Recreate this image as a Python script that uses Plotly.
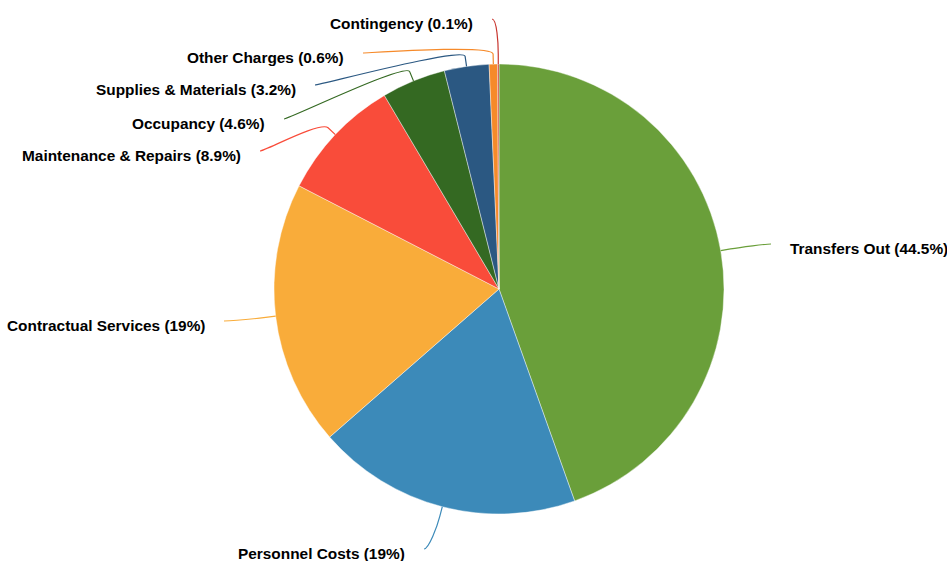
import math
import plotly.graph_objects as go

# Expenditure breakdown by category (percent of total)
categories = [
    "Transfers Out",
    "Personnel Costs",
    "Contractual Services",
    "Maintenance & Repairs",
    "Occupancy",
    "Supplies & Materials",
    "Other Charges",
    "Contingency",
]
shares = [44.5, 19, 19, 8.9, 4.6, 3.2, 0.6, 0.1]
share_text = ["44.5%", "19%", "19%", "8.9%", "4.6%", "3.2%", "0.6%", "0.1%"]

colors = ["#6a9f3a", "#3c8ab9", "#f9ac3a", "#f94c3a",
          "#346922", "#2b5882", "#f68a2a", "#c8352e"]

# Canvas and pie geometry (pixels)
W, H = 947, 561
CX, CY, R = 499, 289, 225
BREAK = 10        # radial length of the connector stub outside the rim
GAP = 17          # space between label text and connector start
LIFT = 4          # connector sits slightly above the label's centre line

# Label placement: (side, text edge x, text centre y)
label_place = [
    ("right", 788, 248),
    ("left", 407, 553),
    ("left", 207, 325),
    ("left", 243, 155),
    ("left", 267, 123),
    ("left", 298, 89),
    ("left", 346, 57),
    ("left", 475, 23),
]

fig = go.Figure()

fig.add_trace(go.Pie(
    labels=categories,
    values=shares,
    sort=False,
    direction="clockwise",
    rotation=0,
    textinfo="none",
    hoverinfo="label+percent",
    marker=dict(colors=colors, line=dict(color="rgba(255,255,255,0.7)", width=0.6)),
    domain=dict(x=[(CX - R) / W, (CX + R) / W],
                y=[1 - (CY + R) / H, 1 - (CY - R) / H]),
    showlegend=False,
))

total = sum(shares)
cum = 0.0
shapes = []
annotations = []
for name, val, txt, col, (side, ex, ey) in zip(categories, shares, share_text,
                                              colors, label_place):
    mid = (cum + val / 2) / total * 2 * math.pi
    cum += val
    dx, dy = math.sin(mid), -math.cos(mid)
    rx, ry = CX + R * dx, CY + R * dy
    bx, by = CX + (R + BREAK) * dx, CY + (R + BREAK) * dy
    sgn = 1 if side == "left" else -1
    sx = ex + sgn * GAP
    sy = ey - LIFT
    c1x = sx + sgn * 5
    c2x, c2y = 2 * bx - rx, 2 * by - ry
    path = (f"M {sx:.2f},{sy:.2f} C {c1x:.2f},{sy:.2f} {c2x:.2f},{c2y:.2f} "
            f"{bx:.2f},{by:.2f} L {rx:.2f},{ry:.2f}")
    shapes.append(dict(type="path", path=path, xref="x", yref="y",
                       line=dict(color=col, width=1.2), layer="above"))
    annotations.append(dict(
        x=ex, y=ey, xref="x", yref="y",
        text=f"<b>{name} ({txt})</b>",
        showarrow=False,
        xanchor="right" if side == "left" else "left",
        yanchor="middle",
        font=dict(family="Liberation Sans, Arial, sans-serif", size=15.4, color="#000000"),
    ))

fig.update_layout(
    width=W, height=H,
    margin=dict(l=0, r=0, t=0, b=0),
    paper_bgcolor="white",
    plot_bgcolor="white",
    xaxis=dict(range=[0, W], visible=False, domain=[0, 1], fixedrange=True),
    yaxis=dict(range=[H, 0], visible=False, domain=[0, 1], fixedrange=True),
    shapes=shapes,
    annotations=annotations,
)

fig.write_html("out.html")
